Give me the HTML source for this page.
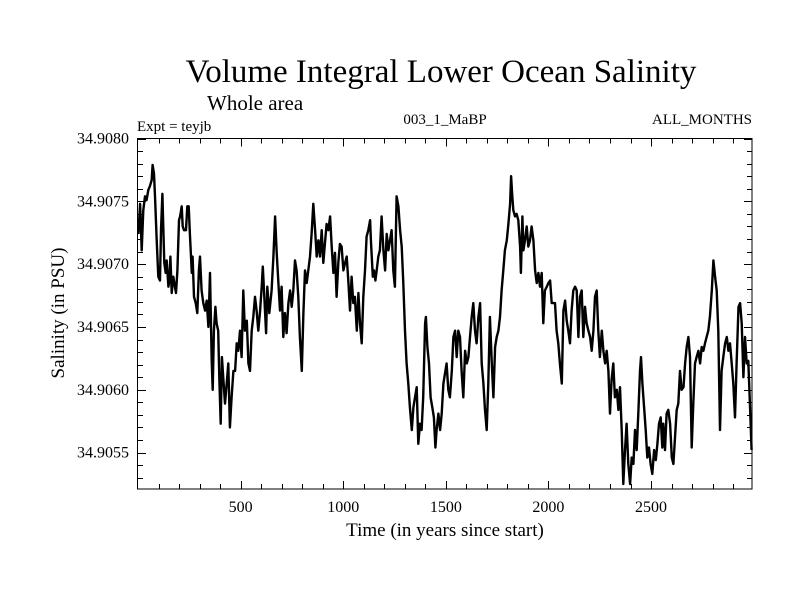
<!DOCTYPE html>
<html><head><meta charset="utf-8"><style>
body{margin:0;background:#fff;}
svg{display:block;font-family:"Liberation Serif",serif;}
</style></head><body>
<svg id="chart" width="800" height="600" viewBox="0 0 800 600">
<text x="441" y="82" text-anchor="middle" font-size="33">Volume Integral Lower Ocean Salinity</text>
<text x="207" y="110" font-size="21">Whole area</text>
<text x="137" y="131" font-size="15">Expt = teyjb</text>
<text x="445" y="124" text-anchor="middle" font-size="15">003_1_MaBP</text>
<text x="752" y="124" text-anchor="end" font-size="15">ALL_MONTHS</text>
<text x="445" y="536" text-anchor="middle" font-size="19">Time (in years since start)</text>
<text transform="translate(64,313) rotate(-90)" text-anchor="middle" font-size="19">Salinity (in PSU)</text>
<g id="axes"></g>
<path id="series" fill="none" stroke="#000" stroke-width="2.4" stroke-linejoin="round"/>
<rect x="137.5" y="138.5" width="614.5" height="350.5" fill="none" stroke="#000" stroke-width="1"/>
</svg>
<script>
const years=[2,10,18,26,34,42,50,58,67,71,78,83,91,99,107,112,119,123,128,135,140,148,153,158,164,172,180,185,192,200,205,213,218,224,234,240,247,253,262,266,273,281,289,297,302,310,318,327,335,343,351,359,364,370,377,383,391,396,403,409,416,424,432,440,448,456,465,473,481,489,497,505,513,521,530,538,546,554,562,570,578,586,595,603,608,614,624,630,640,651,660,668,676,684,692,700,708,716,724,733,741,749,757,765,773,781,789,798,806,814,822,830,838,846,854,863,871,879,887,895,903,911,919,928,936,944,952,960,968,976,984,992,1001,1009,1017,1025,1033,1041,1049,1057,1066,1074,1082,1090,1098,1106,1114,1122,1131,1135,1144,1150,1157,1163,1171,1179,1187,1196,1204,1212,1220,1228,1236,1244,1252,1260,1269,1277,1285,1293,1301,1309,1317,1325,1334,1342,1350,1358,1366,1374,1382,1390,1399,1403,1410,1418,1426,1434,1442,1449,1455,1464,1472,1480,1488,1496,1504,1512,
1520,1529,1537,1545,1553,1561,1569,1577,1585,1594,1602,1610,1618,1626,1634,1642,1650,1659,1667,1675,1683,1691,1699,1707,1715,1724,1732,1740,1748,1756,1764,1772,1780,1788,1797,1805,1813,1818,1824,1829,1837,1845,1853,1862,1866,1873,1878,1886,1894,1902,1910,1918,1927,1935,1943,1951,1959,1967,1975,1983,1992,2000,2008,2016,2024,2032,2040,2048,2056,2065,2073,2081,2089,2097,2105,2113,2121,2130,2138,2146,2154,2162,2170,2178,2186,2195,2203,2211,2219,2227,2235,2243,2251,2260,2268,2276,2284,2292,2300,2308,2316,2324,2333,2341,2349,2357,2365,2373,2381,2389,2398,2406,2414,2422,2430,2438,2446,2451,2458,2466,2474,2482,2490,2498,2506,2515,2523,2531,2539,2547,2555,2560,2568,2576,2584,2593,2601,2609,2617,2625,2633,2641,2649,2658,2666,2674,2682,2690,2698,2706,2714,2722,2731,2739,2747,2755,2763,2771,2779,2787,2796,2804,2812,2820,2828,2836,2844,2852,2861,2869,2877,2885,2893,2901,2909,2917,2926,2934,2942,2950,2958,2966,2974,2982,2990];
const salinity=[34.90724,34.90748,34.90711,34.90743,34.90754,34.90751,34.90759,34.90762,34.90767,34.90779,34.90772,34.90754,34.90719,34.90690,34.90687,34.90727,34.90756,34.90732,34.90701,34.90693,34.90703,34.90682,34.90687,34.90706,34.90677,34.90690,34.90682,34.90677,34.90695,34.90735,34.90738,34.90746,34.90730,34.90727,34.90727,34.90746,34.90746,34.90724,34.90693,34.90706,34.90674,34.90669,34.90661,34.90695,34.90706,34.90679,34.90669,34.90663,34.90671,34.90650,34.90693,34.90623,34.90600,34.90647,34.90666,34.90653,34.90647,34.90610,34.90573,34.90626,34.90608,34.90589,34.90605,34.90621,34.90570,34.90594,34.90615,34.90615,34.90637,34.90631,34.90647,34.90626,34.90679,34.90647,34.90655,34.90621,34.90615,34.90647,34.90658,34.90674,34.90663,34.90647,34.90663,34.90682,34.90698,34.90679,34.90645,34.90682,34.90661,34.90679,34.90706,34.90738,34.90709,34.90685,34.90663,34.90682,34.90642,34.90661,34.90645,34.90669,34.90679,34.90666,34.90679,34.90703,34.90695,34.90674,34.90642,34.90615,34.90661,34.90695,34.90685,34.90695,34.90706,34.90724,34.90748,34.90727,34.90706,34.90719,34.90706,34.90727,34.90701,34.90716,34.90732,34.90727,34.90738,34.90714,34.90693,34.90709,34.90674,34.90701,34.90716,34.90714,34.90695,34.90701,34.90706,34.90687,34.90663,34.90690,34.90669,34.90674,34.90647,34.90677,34.90653,34.90637,34.90674,34.90695,34.90722,34.90727,34.90735,34.90719,34.90690,34.90695,34.90687,34.90695,34.90706,34.90711,34.90738,34.90711,34.90695,34.90724,34.90711,34.90719,34.90727,34.90695,34.90682,34.90754,34.90746,34.90727,34.90714,34.90685,34.90647,34.90621,34.90605,34.90586,34.90568,34.90586,34.90594,34.90602,34.90557,34.90573,34.90568,34.90594,34.90653,34.90658,34.90634,34.90621,34.90594,34.90586,34.90578,34.90554,34.90568,34.90581,34.90568,34.90581,34.90605,34.90613,34.90621,34.90600,
34.90594,34.90615,34.90642,34.90647,34.90626,34.90647,34.90642,34.90615,34.90594,34.90631,34.90621,34.90626,34.90642,34.90658,34.90669,34.90647,34.90637,34.90658,34.90669,34.90621,34.90605,34.90584,34.90568,34.90605,34.90658,34.90621,34.90594,34.90634,34.90642,34.90647,34.90658,34.90679,34.90695,34.90711,34.90719,34.90732,34.90748,34.90770,34.90754,34.90743,34.90738,34.90740,34.90735,34.90714,34.90693,34.90738,34.90711,34.90719,34.90730,34.90714,34.90719,34.90730,34.90719,34.90695,34.90685,34.90693,34.90682,34.90693,34.90653,34.90679,34.90682,34.90685,34.90687,34.90669,34.90669,34.90669,34.90647,34.90637,34.90621,34.90605,34.90663,34.90671,34.90655,34.90647,34.90637,34.90663,34.90679,34.90682,34.90679,34.90642,34.90674,34.90679,34.90642,34.90666,34.90653,34.90647,34.90642,34.90631,34.90647,34.90674,34.90679,34.90647,34.90626,34.90647,34.90631,34.90621,34.90631,34.90615,34.90581,34.90608,34.90621,34.90594,34.90600,34.90584,34.90602,34.90568,34.90525,34.90552,34.90573,34.90541,34.90525,34.90546,34.90541,34.90568,34.90552,34.90581,34.90615,34.90626,34.90605,34.90586,34.90568,34.90546,34.90554,34.90541,34.90533,34.90552,34.90544,34.90557,34.90573,34.90578,34.90554,34.90573,34.90552,34.90581,34.90584,34.90573,34.90546,34.90541,34.90562,34.90584,34.90589,34.90615,34.90600,34.90602,34.90621,34.90634,34.90642,34.90626,34.90554,34.90589,34.90621,34.90626,34.90631,34.90621,34.90634,34.90631,34.90637,34.90642,34.90647,34.90658,34.90679,34.90703,34.90690,34.90679,34.90647,34.90568,34.90615,34.90626,34.90637,34.90642,34.90631,34.90637,34.90621,34.90605,34.90578,34.90621,34.90666,34.90669,34.90653,34.90610,34.90642,34.90621,34.90623,34.90589,34.90552];
const xTickLabels=[500,1000,1500,2000,2500];
const yTickLabels=["34.9055","34.9060","34.9065","34.9070","34.9075","34.9080"];

const X0=138,X1=752,Y0=489,Y1=138.5;
const XMIN=0,XMAX=2992,YMIN=34.90521,YMAX=34.9080;
const xs=v=>X0+(v-XMIN)/(XMAX-XMIN)*(X1-X0);
const ys=v=>Y0-(v-YMIN)/(YMAX-YMIN)*(Y0-Y1);
const NS='http://www.w3.org/2000/svg';
const axes=document.getElementById('axes');
function line(x1,y1,x2,y2){const l=document.createElementNS(NS,'line');l.setAttribute('x1',x1);l.setAttribute('y1',y1);l.setAttribute('x2',x2);l.setAttribute('y2',y2);l.setAttribute('stroke','#000');l.setAttribute('stroke-width','1');axes.appendChild(l);return l;}
for(let t=100;t<XMAX;t+=100){
  const len=(t%500===0)?8:5;const x=Math.round(xs(t))+0.5;
  const a=line(x,Y0,x,Y0-len);
  
  
  const b=line(x,Y1,x,Y1+len);
  
  
}
for(let k=0;k<=27;k++){
  const v=34.9080-k*0.0001;if(v<YMIN)break;
  const len=(k%5===0)?8:5;const y=Math.round(ys(v))+0.5;
  const a=line(X0,y,X0+len,y);
  
  
  const b=line(X1,y,X1-len,y);
  
  
}
xTickLabels.forEach(t=>{
  const tx=document.createElementNS(NS,'text');
  tx.setAttribute('x',xs(t));tx.setAttribute('y',512);tx.setAttribute('text-anchor','middle');tx.setAttribute('font-size','16');
  tx.textContent=t;
  
  
  axes.appendChild(tx);
});
yTickLabels.forEach(t=>{
  const tx=document.createElementNS(NS,'text');
  tx.setAttribute('x',129);tx.setAttribute('y',ys(parseFloat(t))+5);tx.setAttribute('text-anchor','end');tx.setAttribute('font-size','16');
  tx.textContent=t;
  
  
  axes.appendChild(tx);
});
let d='';
years.forEach((yr,i)=>{d+=(i?'L':'M')+xs(yr).toFixed(1)+' '+ys(salinity[i]).toFixed(1);});
document.getElementById('series').setAttribute('d',d);
</script>
</body></html>
